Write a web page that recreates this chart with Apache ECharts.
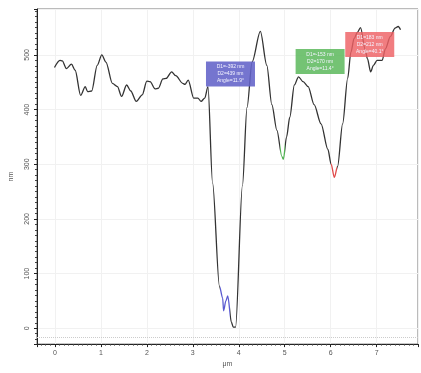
<!DOCTYPE html>
<html>
<head>
<meta charset="utf-8">
<script src="https://cdn.jsdelivr.net/npm/echarts@6/dist/echarts.min.js"></script>
<style>
  html, body { margin: 0; padding: 0; background: #fff; }
  #chart { width: 421px; height: 373px; }
</style>
</head>
<body>
<div id="chart"></div>
<script>
  // profile, x in um, z in nm
  const profileX = [-0.01, 0.11, 0.16, 0.25, 0.36, 0.44, 0.56, 0.66, 0.71, 0.80, 0.92, 1.02, 1.11, 1.25, 1.36, 1.45,
    1.56, 1.65, 1.77, 1.90, 2.00, 2.07, 2.18, 2.25, 2.35, 2.42, 2.54, 2.63, 2.78, 2.83, 2.90, 3.02, 3.11, 3.18, 3.26,
    3.33, 3.43, 3.58, 3.65, 3.67, 3.72, 3.76, 3.84, 3.88, 3.93, 4.08, 4.18, 4.29, 4.47, 4.61, 4.72, 4.83, 4.94, 4.97,
    5.04, 5.11, 5.21, 5.30, 5.40, 5.51, 5.64, 5.79, 5.94, 6.01, 6.08, 6.15, 6.26, 6.37, 6.44, 6.51, 6.58, 6.65, 6.75,
    6.80, 6.87, 6.93, 7.01, 7.12, 7.19, 7.30, 7.40, 7.47, 7.52];
  const profileY = [477, 490, 489, 475, 483, 472, 426, 442, 433, 434, 481, 500, 487, 448, 442, 424,
    445, 434, 415, 427, 452, 451, 438, 439, 456, 457, 469, 462, 448, 446, 454, 421, 421, 415, 421,
    442, 266, 77, 55, 32, 50, 59, 11, 2, 2, 261, 404, 487, 543, 481, 409, 362, 314, 309,
    350, 386, 445, 460, 451, 442, 409, 374, 327, 300, 276, 296, 374, 457, 505, 530, 541, 550, 510,
    493, 469, 481, 490, 490, 511, 534, 549, 552, 546];

  // selected ranges on the profile
  const rangeFrom = [3.60, 4.90, 6.00];
  const rangeTo = [3.80, 5.00, 6.13];
  const rangeColors = ['#5a5ad0', '#4fb050', '#e04848'];

  // measurement boxes
  const boxX = [3.82, 5.77, 6.85];
  const boxY = [465, 488, 519];
  const boxText = [
    'D1=-392 nm\nD2=439 nm\nAngle=11.9°',
    'D1=-153 nm\nD2=170 nm\nAngle=11.4°',
    'D1=183 nm\nD2=212 nm\nAngle=40.1°'
  ];
  const boxColors = ['rgba(98,98,200,0.88)', 'rgba(92,184,92,0.85)', 'rgba(238,96,100,0.82)'];

  const chart = echarts.init(document.getElementById('chart'));

  const data = profileX.map((x, i) => [x, profileY[i]]);

  const option = {
    animation: false,
    grid: { left: 32, top: 9, right: 3, bottom: 21, show: true, borderColor: '#777', borderWidth: 1 },
    xAxis: {
      type: 'value',
      min: -0.39,
      max: 7.9,
      splitNumber: 8,
      name: 'μm',
      nameLocation: 'center',
      nameGap: 14,
      nameTextStyle: { fontSize: 7, color: '#555' },
      axisLine: { onZero: false, lineStyle: { color: '#222' } },
      axisTick: { length: 3, lineStyle: { color: '#222' } },
      minorTick: { show: true, splitNumber: 10, length: 1.5, lineStyle: { color: '#444' } },
      axisLabel: { fontSize: 7, color: '#555', margin: 5, showMinLabel: false, showMaxLabel: false },
      splitLine: { lineStyle: { color: '#f1f1f1' } }
    },
    yAxis: {
      type: 'value',
      min: -29,
      max: 584,
      name: 'nm',
      nameLocation: 'center',
      nameGap: 22,
      nameRotate: 90,
      nameTextStyle: { fontSize: 7, color: '#555' },
      axisLine: { show: true, onZero: false, lineStyle: { color: '#222' } },
      axisTick: { length: 3, lineStyle: { color: '#222' } },
      minorTick: { show: true, splitNumber: 10, length: 2, lineStyle: { color: '#444' } },
      axisLabel: {
        fontSize: 7, color: '#555', rotate: 90, margin: 6,
        showMinLabel: false, showMaxLabel: false
      },
      splitLine: { lineStyle: { color: '#f1f1f1' } }
    },
    visualMap: {
      show: false,
      type: 'piecewise',
      dimension: 0,
      seriesIndex: 0,
      pieces: rangeFrom.map((f, i) => ({ gt: f, lte: rangeTo[i], color: rangeColors[i] })),
      outOfRange: { color: '#333' }
    },
    series: [{
      type: 'line',
      data: data,
      smooth: 0.3,
      smoothMonotone: 'x',
      showSymbol: false,
      lineStyle: { width: 1.3 },
      markLine: {
        silent: true,
        symbol: 'none',
        label: { show: false },
        lineStyle: { color: '#ccc', type: 'dotted', width: 1 },
        data: [{ yAxis: -16 }]
      },
      markPoint: {
        silent: true,
        data: boxX.map((x, i) => ({
          coord: [x, boxY[i]],
          symbol: 'rect',
          symbolSize: [49, 25],
          itemStyle: { color: boxColors[i] },
          label: {
            show: true,
            position: 'inside',
            formatter: boxText[i],
            color: '#f4f4ff',
            fontSize: 5,
            lineHeight: 7
          }
        }))
      }
    }]
  };

  chart.setOption(option);
</script>
</body>
</html>
